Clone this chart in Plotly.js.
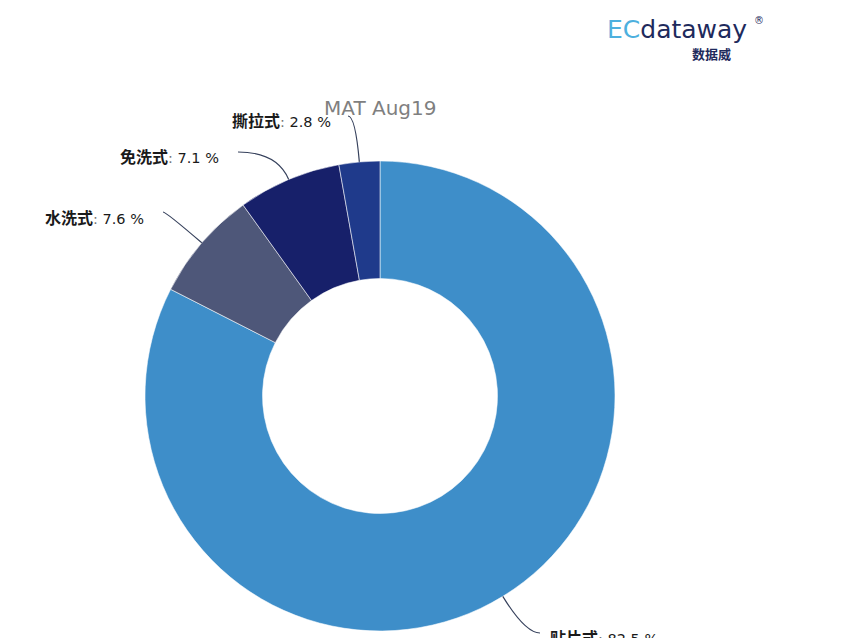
<!DOCTYPE html>
<html>
<head>
<meta charset="utf-8">
<script src="https://cdn.plot.ly/plotly-3.0.1.min.js"></script>
<style>html,body{margin:0;padding:0;background:#fff;}#chart{width:852px;height:638px;}</style>
</head>
<body>
<div id="chart"></div>
<script>
// ---- data ----
const categories = ['贴片式', '水洗式', '免洗式', '撕拉式'];
const shares = [82.5, 7.6, 7.1, 2.8];
const sliceColors = ['#3e8ec9', '#4e5779', '#17206a', '#1f3a8b'];
const chartTitle = 'MAT Aug19';

// ---- layout config (pixels) ----
const W = 852, H = 638;
const cx = 380, cy = 396, R = 235;
// leader-line end points and label anchors per category
const labelLayout = [
  {ex: 540, ey: 633, tx: 548, ty: 637, side: 'left'},
  {ex: 163, ey: 212, tx: 146, ty: 217, side: 'right'},
  {ex: 238, ey: 152, tx: 221, ty: 156, side: 'right'},
  {ex: 348, ey: 116, tx: 333, ty: 120, side: 'right'}
];

const total = shares.reduce((a, b) => a + b, 0);
let cum = 0;
const shapes = [];
const annotations = [];
shares.forEach((v, i) => {
  const mid = (cum + v / 2) / total * 2 * Math.PI; // clockwise from top
  cum += v;
  const dx = Math.sin(mid), dy = -Math.cos(mid);
  const x0 = cx + R * dx, y0 = cy + R * dy;
  const L = labelLayout[i];
  const t = (L.ey - y0) / dy;
  const qx = x0 + dx * t, qy = L.ey;
  shapes.push({
    type: 'path', xref: 'x', yref: 'y',
    path: `M ${x0},${y0} Q ${qx},${qy} ${L.ex},${L.ey}`,
    line: {color: '#36415c', width: 1.2}
  });
  annotations.push({
    xref: 'x', yref: 'y', x: L.tx, y: L.ty, showarrow: false,
    xanchor: L.side === 'left' ? 'left' : 'right', yanchor: 'middle',
    text: `<b><span style="font-family:'Noto Sans CJK SC';font-size:16px">${categories[i]}</span></b><span style="color:#777">:</span> ${v.toFixed(1)} %`,
    font: {family: 'DejaVu Sans, Noto Sans CJK SC, sans-serif', size: 14.5, color: '#1a1a1a'}
  });
});

// title
annotations.push({
  xref: 'x', yref: 'y', x: cx, y: 108, showarrow: false, xanchor: 'center', yanchor: 'middle',
  text: chartTitle, font: {family: 'DejaVu Sans, sans-serif', size: 20, color: '#7f7f7f'}
});
// logo
annotations.push({
  xref: 'x', yref: 'y', x: 605, y: 29, showarrow: false, xanchor: 'left', yanchor: 'middle',
  text: '<span style="color:#4db0de">EC</span>dataway',
  font: {family: 'DejaVu Sans, sans-serif', size: 25, color: '#1e2a5c'}
});
annotations.push({
  xref: 'x', yref: 'y', x: 752, y: 20, showarrow: false, xanchor: 'left', yanchor: 'middle',
  text: '®', font: {family: 'DejaVu Sans, sans-serif', size: 10, color: '#1e2a5c'}
});
annotations.push({
  xref: 'x', yref: 'y', x: 711, y: 53, showarrow: false, xanchor: 'center', yanchor: 'middle',
  text: '<b>数据威</b>', font: {family: 'Noto Sans CJK SC, sans-serif', size: 13, color: '#1e2a5c'}
});

const pie = {
  type: 'pie',
  labels: categories,
  values: shares,
  sort: false,
  direction: 'clockwise',
  rotation: 0,
  hole: 0.5,
  textinfo: 'none',
  hoverinfo: 'label+percent',
  marker: {colors: sliceColors, line: {color: 'rgba(255,255,255,0.55)', width: 1}},
  domain: {x: [(cx - R) / W, (cx + R) / W], y: [(H - (cy + R)) / H, (H - (cy - R)) / H]},
  showlegend: false
};
const dummy = {type: 'scatter', x: [0, W], y: [0, H], mode: 'markers', marker: {opacity: 0}, hoverinfo: 'skip', showlegend: false};

Plotly.newPlot('chart', [pie, dummy], {
  width: W, height: H,
  margin: {l: 0, r: 0, t: 0, b: 0},
  paper_bgcolor: '#fff', plot_bgcolor: 'rgba(0,0,0,0)',
  xaxis: {range: [0, W], visible: false, fixedrange: true},
  yaxis: {range: [H, 0], visible: false, fixedrange: true},
  shapes: shapes,
  annotations: annotations,
  showlegend: false
}, {staticPlot: true});
</script>
</body>
</html>
